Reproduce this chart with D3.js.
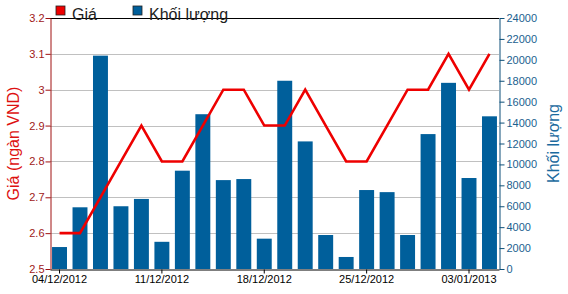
<!DOCTYPE html>
<html lang="vi">
<head>
    <meta charset="UTF-8" />
    <title>Giá và khối lượng</title>
    <script src="https://d3js.org/d3.v7.min.js"></script>
    <style>
        body {
            margin: 0;
            background: #fff;
            font-family: Arial, 'Liberation Sans', sans-serif;
        }
        svg text {
            font-family: Arial, 'Liberation Sans', sans-serif;
        }
    </style>
</head>
<body>
    <script>
        // dữ liệu
        const dates = [
            '04/12/2012', '05/12/2012', '06/12/2012', '07/12/2012', '10/12/2012',
            '11/12/2012', '12/12/2012', '13/12/2012', '14/12/2012', '17/12/2012',
            '18/12/2012', '19/12/2012', '20/12/2012', '21/12/2012', '24/12/2012',
            '25/12/2012', '26/12/2012', '27/12/2012', '28/12/2012', '31/12/2012',
            '03/01/2013', '04/01/2013'
        ];
        const prices = [2.6, 2.6, 2.7, 2.8, 2.9, 2.8, 2.8, 2.9, 3.0, 3.0, 2.9,
            2.9, 3.0, 2.9, 2.8, 2.8, 2.9, 3.0, 3.0, 3.1, 3.0, 3.1];
        const volumes = [2100, 5900, 20400, 6000, 6700, 2600, 9400, 14800, 8500, 8600, 2900,
            18000, 12200, 3250, 1150, 7550, 7350, 3250, 12900, 17800, 8700, 14600];
        const xTickLabels = ['04/12/2012', '11/12/2012', '18/12/2012', '25/12/2012', '03/01/2013'];
        const priceTicks = [2.5, 2.6, 2.7, 2.8, 2.9, 3, 3.1, 3.2];
        const volumeTicks = d3.range(0, 24001, 2000);

        const width = 568, height = 294;
        const plotLeft = 50, plotRight = 499, plotTop = 18, plotBottom = 269;

        const svg = d3.select('body').append('svg')
            .attr('width', width)
            .attr('height', height);

        const x = d3.scaleBand().domain(dates).range([plotLeft, plotRight])
            .paddingInner(0.27).paddingOuter(0.1);
        const yPrice = d3.scaleLinear().domain([2.5, 3.2]).range([plotBottom, plotTop]);
        const yVol = d3.scaleLinear().domain([0, 24000]).range([plotBottom, plotTop]);

        // lưới
        svg.append('g')
            .selectAll('line')
            .data(priceTicks.slice(1, -1))
            .join('line')
            .attr('x1', plotLeft).attr('x2', plotRight)
            .attr('y1', d => Math.round(yPrice(d)) + 0.5)
            .attr('y2', d => Math.round(yPrice(d)) + 0.5)
            .attr('stroke', '#c0c0c0');

        // viền trên
        svg.append('line')
            .attr('x1', plotLeft).attr('x2', plotRight)
            .attr('y1', plotTop + 0.5).attr('y2', plotTop + 0.5)
            .attr('stroke', '#000');

        // cột khối lượng
        svg.append('g')
            .selectAll('rect')
            .data(volumes)
            .join('rect')
            .attr('x', (d, i) => x(dates[i]))
            .attr('width', x.bandwidth())
            .attr('y', d => yVol(d))
            .attr('height', d => plotBottom - yVol(d))
            .attr('fill', '#005f9b');

        // đường giá
        const line = d3.line()
            .x((d, i) => x(dates[i]) + x.bandwidth() / 2)
            .y(d => yPrice(d));

        svg.append('path')
            .datum(prices)
            .attr('d', line)
            .attr('fill', 'none')
            .attr('stroke', '#ee0000')
            .attr('stroke-width', 2.6)
            .attr('stroke-linejoin', 'miter');

        // trục trái
        const axisLeft = svg.append('g')
            .attr('transform', `translate(${plotLeft + 0.5},0)`)
            .call(d3.axisLeft(yPrice).tickValues(priceTicks).tickSize(5).tickSizeOuter(0)
                .tickFormat(d3.format('~g')));
        axisLeft.select('.domain').attr('stroke', '#a01010');
        axisLeft.selectAll('.tick line').attr('stroke', '#a01010');
        axisLeft.selectAll('.tick text').attr('fill', '#a01818')
            .attr('font-size', 11).attr('x', -6);

        // trục phải
        const axisRight = svg.append('g')
            .attr('transform', `translate(${plotRight + 0.5},0)`)
            .call(d3.axisRight(yVol).tickValues(volumeTicks).tickSize(5).tickSizeOuter(0)
                .tickFormat(d3.format('d')));
        axisRight.select('.domain').attr('stroke', '#0d4f78');
        axisRight.selectAll('.tick line').attr('stroke', '#0d4f78');
        axisRight.selectAll('.tick text').attr('fill', '#1a5f8f')
            .attr('font-size', 11).attr('x', 7);

        // trục dưới
        const axisBottom = svg.append('g')
            .attr('transform', `translate(0,${plotBottom + 0.5})`)
            .call(d3.axisBottom(x).tickValues(xTickLabels).tickSize(4).tickSizeOuter(0));
        axisBottom.select('.domain').attr('stroke', '#000');
        axisBottom.selectAll('.tick line').attr('stroke', '#000');
        axisBottom.selectAll('.tick text').attr('fill', '#000')
            .attr('font-size', 11).attr('y', 6);

        // tiêu đề trục
        svg.append('text')
            .attr('transform', `translate(19,${(plotTop + plotBottom) / 2}) rotate(-90)`)
            .attr('text-anchor', 'middle')
            .attr('font-size', 16)
            .attr('fill', '#dd1111')
            .text('Giá (ngàn VND)');

        svg.append('text')
            .attr('transform', `translate(559,${(plotTop + plotBottom) / 2}) rotate(-90)`)
            .attr('text-anchor', 'middle')
            .attr('font-size', 16)
            .attr('fill', '#1a6a9e')
            .text('Khối lượng');

        // chú thích
        const legendItems = [
            { name: 'Giá', color: '#ee0000', x: 56 },
            { name: 'Khối lượng', color: '#005f9b', x: 133 }
        ];
        const legend = svg.append('g')
            .selectAll('g')
            .data(legendItems)
            .join('g')
            .attr('transform', d => `translate(${d.x},6)`);
        legend.append('rect')
            .attr('width', 9).attr('height', 9)
            .attr('fill', d => d.color)
            .attr('stroke', '#222').attr('stroke-width', 0.8);
        legend.append('text')
            .attr('x', 16).attr('y', 10)
            .attr('dy', '0.25em')
            .attr('font-size', 16)
            .attr('fill', '#222')
            .text(d => d.name);
    </script>
</body>
</html>
